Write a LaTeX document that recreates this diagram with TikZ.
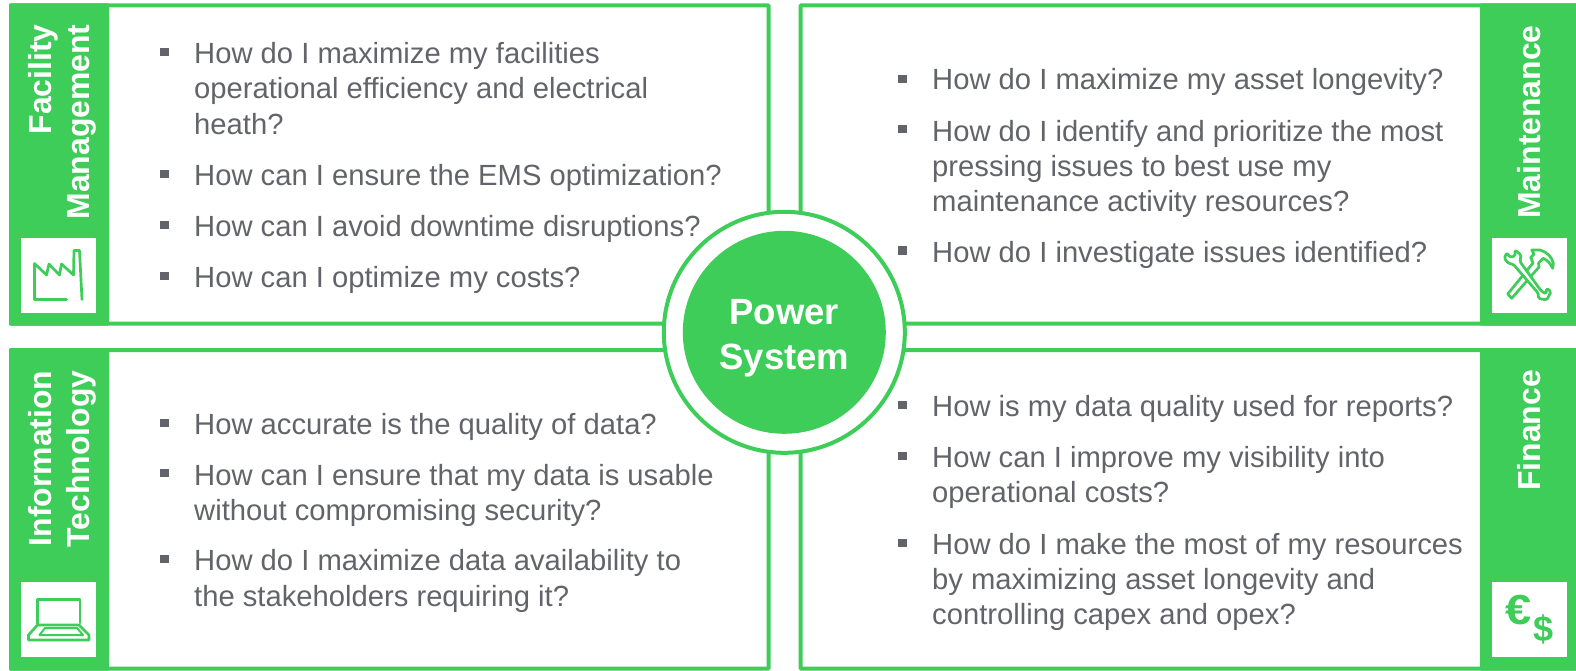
\documentclass[tikz,border=0pt]{standalone}
\usepackage{fontspec}
\setmainfont{Liberation Sans}
\definecolor{sysgreen}{HTML}{3DCD58}
\definecolor{qgrey}{HTML}{626469}
\tikzset{
	panel/.style={draw=sysgreen, line width=4pt, rounded corners=1pt},
	band/.style={fill=sysgreen, rounded corners=1pt},
	iconbox/.style={fill=white},
	icon/.style={draw=sysgreen, line width=2.7pt, line join=round, line cap=round},
	bullet/.style={fill=qgrey, inner sep=0pt, minimum size=8.5pt},
	question/.style={anchor=west, inner sep=0pt, align=left, text=qgrey, font=\fontsize{29.2}{35.2}\selectfont},
	bandlabel/.style={rotate=90, inner sep=0pt, align=right, text=white, font=\fontsize{31.9}{38}\selectfont\bfseries}
}
\begin{document}
\begin{tikzpicture}[x=1pt, y=-1pt]
		\useasboundingbox (0,0) rectangle (1576,671);
		\fill[white] (0,0) rectangle (1576,671);

		% panels
		\draw[panel](11, 5.3) rectangle (768.5, 323.7);
		\draw[panel](800.5, 5.3) rectangle (1580, 323.7);
		\draw[panel](11, 350) rectangle (768.5, 668.7);
		\draw[panel](800.5, 350) rectangle (1580, 668.7);

		% bands
		\fill[band](9, 3.3) rectangle (109, 325.7);
		\fill[band](1480, 3.3) rectangle (1580, 325.7);
		\fill[band](9, 348) rectangle (109, 670.7);
		\fill[band](1480, 348) rectangle (1580, 670.7);

		\node[bandlabel] (facility) at(62, 122){Facility\\Management};
		\node[bandlabel] (maintenance) at(1529, 122){Maintenance};
		\node[bandlabel] (infotech) at(62, 459){Information\\Technology};
		\node[bandlabel] (finance) at(1529, 430.5){Finance};

		% icon squares
		\fill[iconbox](21, 238) rectangle (96, 313);
		\fill[iconbox](1492, 238) rectangle (1567, 313);
		\fill[iconbox](21, 582) rectangle (96, 657);
		\fill[iconbox](1492, 582) rectangle (1567, 657);

		% factory
		\draw[icon](66.5, 299.5) -- (34.5, 299.5) -- (34.5, 263.5) -- (46.5, 275) -- (49, 264) -- (59.5, 275) -- (61.5, 264) -- (73.5, 275) -- (74, 250.5) -- (79.5, 250.5) -- (82, 299.5);

		% hammer, then wrench over it
		\draw[icon](1507.7, 294) -- (1533, 263) -- (1530.7, 257.3) -- (1534, 254.3) -- (1531.7, 250) -- (1540, 250) .. controls (1547, 252) and (1552, 257) .. (1553.3, 263.3) -- (1552.7, 268.3) .. controls (1550, 263) and (1547, 260) .. (1543.3, 258.3) -- (1538.5, 263) -- (1539, 267) -- (1511.7, 298.3) -- cycle;
		\draw[icon, fill=white, rounded corners=1.5pt](1506.7, 252.7) -- (1504.3, 258.3) -- (1508.3, 263.3) -- (1513.3, 264.3) -- (1538.3, 293.3) -- (1538.3, 298.3) -- (1546.7, 300) -- (1551, 291.7) -- (1546.7, 288.3) -- (1546, 294) -- (1541, 290.7) -- (1520, 261.7) -- (1521, 255) -- (1515, 250) -- (1515, 256) -- (1510, 257.3) -- cycle;

		% laptop
		\draw[icon](37.5, 624) -- (37.5, 599.5) -- (80, 599.5) -- (80, 623);
		\draw[icon](37.5, 625) -- (28.5, 635) -- (28.5, 640) -- (89, 640) -- (89, 635) -- (79, 625) -- (37.5, 625);
		\draw[icon, line width=2pt](45, 628) -- (77, 628) -- (83, 635) -- (39.5, 635) -- cycle;

		% currency
		\node[inner sep=0pt, xscale=1.12, text=sysgreen, font=\fontsize{42}{42}\selectfont\bfseries] (euro) at(1518.7, 610){€};
		\node[inner sep=0pt, text=sysgreen, font=\fontsize{36}{36}\selectfont\bfseries] (dollar) at(1543, 629){\$};

		% facility management
		\node[bullet] (b1) at(164.5, 52){};
		\node[question] (q1) at(194, 88.4){How do I maximize my facilities\\operational efficiency and electrical\\heath?};
		\node[bullet] (b2) at(164.5, 174){};
		\node[question] (q2) at(194, 178){How can I ensure the EMS optimization?};
		\node[bullet] (b3) at(164.5, 225){};
		\node[question] (q3) at(194, 229){How can I avoid downtime disruptions?};
		\node[bullet] (b4) at(164.5, 276){};
		\node[question] (q4) at(194, 280){How can I optimize my costs?};

		% maintenance
		\node[bullet] (b5) at(902.5, 79){};
		\node[question] (q5) at(932, 82){How do I maximize my asset longevity?};
		\node[bullet] (b6) at(902.5, 129){};
		\node[question] (q6) at(932, 169){How do I identify and prioritize the most\\pressing issues to best use my\\maintenance activity resources?};
		\node[bullet] (b7) at(902.5, 250.5){};
		\node[question] (q7) at(932, 255){How do I investigate issues identified?};

		% information technology
		\node[bullet] (b8) at(164.5, 423){};
		\node[question] (q8) at(194, 426.5){How accurate is the quality of data?};
		\node[bullet] (b9) at(164.5, 473){};
		\node[question] (q9) at(194, 495.5){How can I ensure that my data is usable\\without compromising security?};
		\node[bullet] (b10) at(164.5, 559){};
		\node[question] (q10) at(194, 581){How do I maximize data availability to\\the stakeholders requiring it?};

		% finance
		\node[bullet] (b11) at(902.5, 405){};
		\node[question] (q11) at(932, 408.5){How is my data quality used for reports?};
		\node[bullet] (b12) at(902.5, 456){};
		\node[question] (q12) at(932, 477.5){How can I improve my visibility into\\operational costs?};
		\node[bullet] (b13) at(902.5, 543){};
		\node[question] (q13) at(932, 582){How do I make the most of my resources\\by maximizing asset longevity and\\controlling capex and opex?};

		% centre
		\node[circle, fill=white, draw=sysgreen, line width=4pt, minimum size=241pt, inner sep=0pt] (ring) at(784.3, 332.3){};
		\node[circle, fill=sysgreen, minimum size=203pt, inner sep=0pt] (core) at(ring.center){};
		\node[inner sep=0pt, align=center, text=white, font=\fontsize{36.5}{45.5}\selectfont\bfseries] (corelabel) at(784.3, 338){Power\\System};
	\end{tikzpicture}
\end{document}
